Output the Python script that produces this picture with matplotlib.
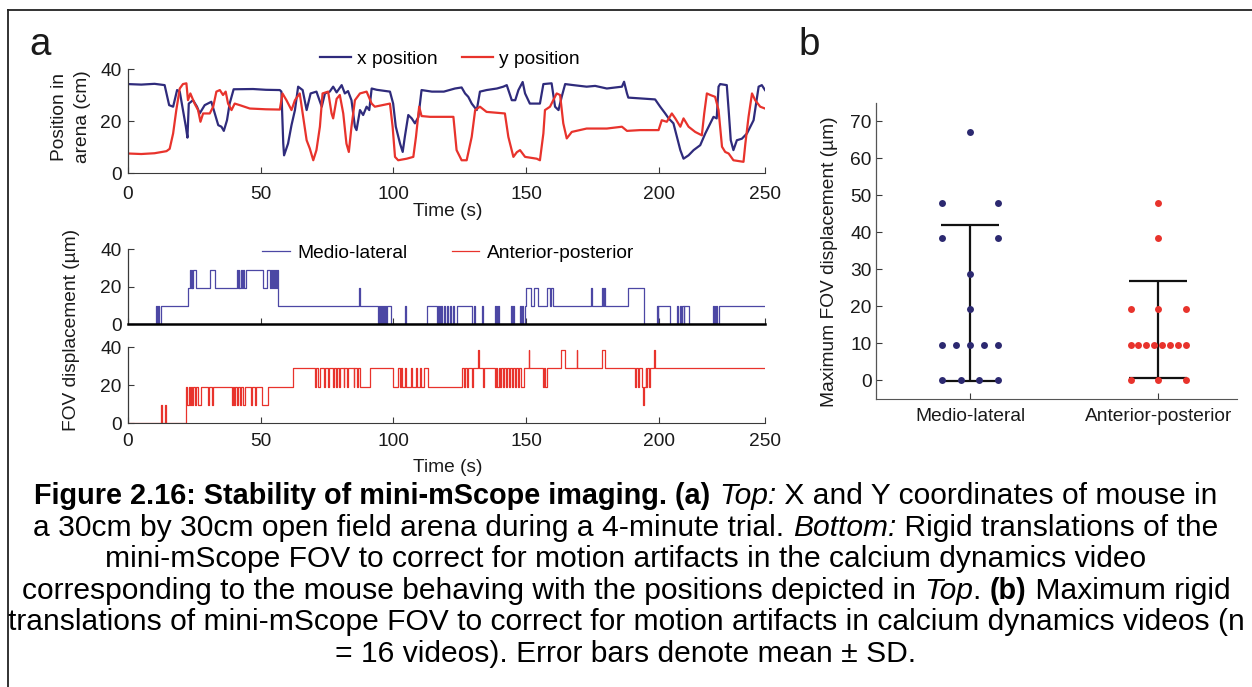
import numpy as np
import matplotlib
matplotlib.use("Agg")
import matplotlib.pyplot as plt
from matplotlib.lines import Line2D

plt.rcParams['font.family'] = ['Liberation Sans', 'DejaVu Sans']

# ---------------- data ----------------
time_ticks = [0, 50, 100, 150, 200, 240]
time_tick_labels = ['0', '50', '100', '150', '200', '250']

# mouse x position (cm)
xpos_t = [0, 5, 10, 13.8, 15.5, 17.0, 18.5, 19.5, 20.7, 21.8, 22.4, 22.9, 24.5, 26.0, 27.0, 28.9,
          31.4, 32.7, 34.0, 35.2, 36.1, 37.3, 38.3, 39.8, 47.1, 52, 57.2, 57.8, 58.5, 58.8, 60.3,
          61.6, 62.9, 64.1, 65.8, 67.3, 68.8, 71.0, 73.0, 74.2, 76.0, 77.3, 78.6, 80.5, 81.7, 82.9,
          84.2, 85.5, 86.1, 87.4, 88.6, 89.9, 90.9, 91.8, 93.7, 98.7, 99.9, 100.9, 102.5, 103.5,
          104.3, 105.6, 106.9, 108.1, 109.4, 110.6, 114.5, 119, 123.2, 125.7, 127.0, 128.2, 129.5,
          131.4, 132.6, 135.1, 139.0, 141.4, 142.7, 144.6, 145.9, 147.1, 148.7, 149.6, 151.4, 155.2,
          156.5, 159.6, 160.9, 162.2, 163.4, 164.7, 167.8, 172.8, 176, 180.4, 186.1, 186.9, 188.0,
          188.5, 193.0, 198.6, 200.5, 202.4, 203.7, 205.5, 206.8, 208.1, 209.3, 211.2, 213.1, 215.6,
          217.5, 219.4, 220.6, 221.8, 222.5, 223.1, 225.6, 226.3, 227.1, 228.1, 229.4, 231.3, 233.2,
          235.7, 237.6, 238.8, 240.0]
xpos_v = [34.2, 34.0, 34.3, 33.8, 26.1, 25.5, 31.9, 31.3, 24.2, 17.8, 13.6, 26.7, 28.0, 25.5, 22.9, 26.1,
          27.4, 22.9, 18.4, 17.8, 16.2, 20.3, 26.7, 32.2, 32.3, 32.0, 31.9, 31.3, 11.3, 6.8, 11.3,
          18.4, 24.2, 33.2, 31.9, 24.2, 30.6, 31.3, 25.5, 30.6, 31.3, 33.2, 31.0, 33.8, 30.6, 31.5,
          28.0, 17.8, 16.5, 24.2, 22.3, 25.5, 24.2, 32.5, 32.0, 31.3, 26.7, 17.8, 11.3, 8.1,
          13.9, 22.3, 21.0, 19.1, 21.5, 31.9, 31.3, 31.3, 32.5, 32.9, 30.6, 29.3, 26.7,
          24.2, 31.3, 31.9, 32.5, 33.2, 33.8, 28.0, 28.0, 31.9, 35.0, 30.6, 26.7, 26.7,
          34.2, 34.5, 25.5, 24.2, 29.3, 34.2, 33.8, 33.2, 33.5, 32.5, 33.2, 35.1, 30.6,
          29.0, 28.7, 28.3, 25.5, 22.9, 21.0, 19.1, 13.9, 8.8, 5.5, 6.8, 8.8, 10.7,
          15.2, 19.1, 21.6, 21.0, 33.2, 34.2, 33.8, 24.2, 12.6, 8.8, 12.6, 13.2, 15.2,
          20.3, 33.2, 33.8, 31.9]

# mouse y position (cm)
ypos_t = [0, 5, 10, 14.5, 15.7, 17.0, 18.2, 19.5, 20.7, 22.0, 22.6, 23.5, 25.1, 26.4, 27.3, 28.3,
          30.8, 32.1, 33.3, 34.6, 35.8, 36.8, 37.7, 39.0, 40.2, 42.1, 45.9, 52, 57.2, 58.2, 59.7,
          61.6, 62.9, 64.7, 66.0, 67.3, 68.5, 69.8, 71.0, 72.3, 73.3, 75.4, 76.7, 77.3, 78.6, 79.8,
          81.1, 82.3, 83.2, 84.2, 85.5, 87.4, 89.9, 91.8, 93.0, 98.7, 99.7, 100.6, 101.8, 105.0,
          107.5, 108.5, 109.7, 110.6, 113.8, 122.6, 123.8, 125.7, 127.6, 129.5, 130.8, 132.6, 135.1,
          142.0, 143.3, 145.2, 146.5, 147.7, 149.6, 154.0, 155.2, 156.5, 157.1, 159.0, 161.5, 162.8,
          164.0, 165.3, 167.2, 172.8, 180.4, 186.1, 188.0, 193.0, 199.9, 201.1, 203.0, 204.9, 206.2,
          208.1, 209.3, 211.2, 213.7, 216.2, 217.1, 218.1, 219.4, 221.2, 222.5, 223.8, 225.0, 226.3,
          228.1, 231.9, 232.6, 233.8, 235.1, 236.3, 238.2, 240.0]
ypos_v = [7.5, 7.3, 7.6, 8.4, 9.3, 15.2, 24.2, 32.5, 34.2, 34.5, 28.0, 30.6, 26.7, 24.2, 19.7, 22.9,
          22.9, 25.5, 31.3, 31.9, 30.0, 31.3, 26.7, 24.2, 26.7, 26.1, 24.8, 24.5, 24.4, 30.6, 28.0,
          24.2, 28.0, 30.6, 21.6, 12.6, 9.4, 4.9, 8.8, 17.8, 30.6, 31.3, 22.9, 21.0, 28.5, 30.0,
          22.9, 11.3, 8.1, 17.8, 28.0, 30.6, 31.3, 26.7, 25.5, 26.7, 17.8, 6.2, 4.9, 5.5,
          6.2, 13.9, 25.5, 21.9, 21.6, 21.6, 8.8, 4.9, 4.9, 13.9, 24.2, 25.5, 23.5,
          22.9, 13.9, 6.2, 8.0, 8.8, 6.2, 5.5, 4.9, 15.2, 24.2, 25.5, 30.6, 30.0,
          19.1, 13.3, 15.8, 17.1, 17.1, 17.8, 16.2, 16.5, 16.5, 20.3, 19.7, 22.9, 21.0,
          17.8, 21.0, 17.8, 15.8, 14.5, 22.9, 30.6, 30.0, 29.3, 24.2, 10.1, 8.1, 7.5,
          4.9, 4.3, 11.3, 21.6, 30.6, 28.0, 25.5, 24.8]

# FOV displacement, medio-lateral (um) : change times and levels
ml_t = [0, 10.4, 10.9, 11.4, 11.8, 12.3,
        22.6, 23.3, 23.6, 24.0, 24.3, 24.6, 25.6, 30.8, 32.7,
        40.9, 41.3, 41.7, 42.0, 42.4, 43.0, 43.4, 43.8, 44.3, 51.0, 52.2,
        53.5, 53.8, 54.2, 54.5, 54.9, 55.3, 55.7, 56.0, 56.6,
        87.0, 87.3, 94.3, 94.6, 95.0, 95.3, 95.7, 96.0, 96.4, 96.7, 97.2, 97.5, 99.0,
        104.5, 104.8, 112.5, 116.5, 116.8, 117.1, 117.4, 117.7, 118.0, 118.3,
        119.0, 119.3, 120.2, 120.5, 121.5, 121.8, 122.6, 122.9, 124.1, 129.5,
        130.4, 130.7, 133.3, 133.6, 138.3, 138.6, 138.9, 139.2, 139.5, 139.8,
        144.2, 144.5, 145.1, 145.4, 147.7, 148.0, 148.5, 148.8, 149.6,
        150.0, 152.0, 153.0, 154.6, 157.8, 159.0, 159.5, 160.3,
        174.6, 174.9, 178.5, 178.8, 179.5, 179.8, 188.5, 194.3,
        199.2, 199.5, 199.8, 204.2, 206.8, 207.2, 207.8, 208.2, 208.8, 209.3, 209.6, 211.2,
        220.3, 220.6, 221.0, 221.3, 221.7, 222.0, 222.5, 240.0]
ml_v = [0, 9.6, 0, 9.6, 0, 9.6,
        19.2, 28.8, 19.2, 28.8, 19.2, 28.8, 19.2, 28.8, 19.2,
        28.8, 19.2, 28.8, 19.2, 28.8, 19.2, 28.8, 19.2, 28.8, 19.2, 28.8,
        19.2, 28.8, 19.2, 28.8, 19.2, 28.8, 19.2, 28.8, 9.6,
        19.2, 9.6, 0, 9.6, 0, 9.6, 0, 9.6, 0, 9.6, 0, 9.6, 0,
        9.6, 0, 9.6, 0, 9.6, 0, 9.6, 0, 9.6, 0,
        9.6, 0, 9.6, 0, 9.6, 0, 9.6, 0, 9.6, 0,
        9.6, 0, 9.6, 0, 9.6, 0, 9.6, 0, 9.6, 0,
        9.6, 0, 9.6, 0, 9.6, 0, 9.6, 0, 9.6,
        19.2, 9.6, 19.2, 9.6, 19.2, 9.6, 19.2, 9.6,
        19.2, 9.6, 19.2, 9.6, 19.2, 9.6, 19.2, 0,
        9.6, 0, 9.6, 0, 9.6, 0, 9.6, 0, 9.6, 0, 9.6, 0,
        9.6, 0, 9.6, 0, 9.6, 0, 9.6, 9.6]

# FOV displacement, anterior-posterior (um)
ap_t = [0, 12.3, 12.7, 13.9, 14.3, 22.0,
        22.4, 22.8, 23.3, 23.6, 24.2, 24.6, 25.2, 25.6, 26.5, 27.4,
        30.3, 30.6, 31.6, 32.2,
        39.0, 39.4, 40.0, 40.4, 41.2, 41.6, 42.3, 42.7, 43.5, 44.0,
        46.5, 46.9, 47.8, 48.3, 50.6, 52.6, 62.2,
        70.4, 70.8, 71.5, 72.3, 74.0, 74.4, 75.5, 75.9,
        77.3, 77.7, 78.5, 78.9, 79.5, 79.8, 81.2, 81.5, 82.4, 83.0,
        85.0, 85.3, 86.2, 86.5, 87.4, 91.2, 100.0,
        101.9, 102.3, 102.9, 103.3, 104.3, 104.8, 106.5, 107.0, 108.5, 108.9, 110.0, 110.5,
        111.5, 113.1, 125.7, 126.5, 127.0, 127.8, 128.2, 129.5, 130.0,
        132.0, 132.3, 133.8, 134.2,
        138.3, 138.6, 139.2, 139.6, 140.2, 140.5, 141.3, 141.7, 142.4, 142.7, 143.5, 143.8,
        144.5, 144.9, 145.8, 146.2, 147.0, 147.4, 148.0, 149.3,
        151.0, 151.2, 156.2, 156.6, 157.0, 157.9, 163.3, 164.6, 169.0, 169.2, 178.5, 179.8,
        191.0, 191.3, 192.0, 192.4, 193.6, 194.2, 194.5, 195.0, 195.3, 195.6, 196.2, 196.5,
        198.2, 198.4, 240.0]
ap_v = [0, 9.6, 0, 9.6, 0, 19.2,
        9.6, 19.2, 9.6, 19.2, 9.6, 19.2, 9.6, 19.2, 9.6, 19.2,
        9.6, 19.2, 9.6, 19.2,
        9.6, 19.2, 9.6, 19.2, 9.6, 19.2, 9.6, 19.2, 9.6, 19.2,
        9.6, 19.2, 9.6, 19.2, 9.6, 19.2, 28.8,
        19.2, 28.8, 19.2, 28.8, 19.2, 28.8, 19.2, 28.8,
        19.2, 28.8, 19.2, 28.8, 19.2, 28.8, 19.2, 28.8, 19.2, 28.8,
        19.2, 28.8, 19.2, 28.8, 19.2, 28.8, 19.2,
        28.8, 19.2, 28.8, 19.2, 28.8, 19.2, 28.8, 19.2, 28.8, 19.2, 28.8, 19.2,
        28.8, 19.2, 28.8, 19.2, 28.8, 19.2, 28.8, 19.2, 28.8,
        38.4, 28.8, 19.2, 28.8,
        19.2, 28.8, 19.2, 28.8, 19.2, 28.8, 19.2, 28.8, 19.2, 28.8, 19.2, 28.8,
        19.2, 28.8, 19.2, 28.8, 19.2, 28.8, 19.2, 28.8,
        38.4, 28.8, 19.2, 28.8, 19.2, 28.8, 38.4, 28.8, 38.4, 28.8, 38.4, 28.8,
        19.2, 28.8, 19.2, 28.8, 19.2, 9.6, 19.2, 28.8, 19.2, 28.8, 19.2, 28.8,
        38.4, 28.8, 28.8]

# panel b: maximum FOV displacement per video (um), n = 16 each
categories = ['Medio-lateral', 'Anterior-posterior']
ml_max = [67.2, 48.0, 48.0, 38.4, 38.4, 28.8, 19.2, 9.6, 9.6, 9.6, 9.6, 9.6, 0, 0, 0, 0]
ap_max = [48.0, 38.4, 19.2, 19.2, 19.2, 9.6, 9.6, 9.6, 9.6, 9.6, 9.6, 9.6, 9.6, 0, 0, 0]
b_yticks = [0, 10, 20, 30, 40, 50, 60, 70]

# ---------------- style ----------------
NAVY = '#2f2b7c'
NAVY_LIGHT = '#4c47a4'
RED = '#e8332c'
DOT_NAVY = '#2c2970'
SPINE = '#3a3a3a'
TXT = '#1a1a1a'
FS = 13.8

W, H = 1252, 687
fig = plt.figure(figsize=(W / 100, H / 100), dpi=100)


def rect(l, t, r, b):
    return [l / W, 1 - b / H, (r - l) / W, (b - t) / H]


def style_axes(ax, bottom_color=SPINE):
    for s in ['top', 'right']:
        ax.spines[s].set_visible(False)
    ax.spines['left'].set_color(SPINE)
    ax.spines['bottom'].set_color(bottom_color)
    ax.spines['left'].set_linewidth(0.9)
    ax.tick_params(direction='in', length=4.5, width=0.8, colors=SPINE,
                   labelcolor=TXT, labelsize=FS)


# ---- panel a top: position ----
ax1 = fig.add_axes(rect(128, 69, 765, 173))
ax1.plot(xpos_t, xpos_v, color=NAVY, lw=1.6, label='x position')
ax1.plot(ypos_t, ypos_v, color=RED, lw=1.6, label='y position')
ax1.set_xlim(0, 240)
ax1.set_ylim(0, 40)
ax1.set_yticks([0, 20, 40])
ax1.set_xticks(time_ticks)
ax1.set_xticklabels(time_tick_labels)
style_axes(ax1)
ax1.tick_params(axis='x', pad=9.5)
ax1.tick_params(axis='y', pad=4.5)
ax1.legend(loc='center left', bbox_to_anchor=(320 / W, 1 - 59 / H),
           bbox_transform=fig.transFigure, ncol=2, frameon=False, borderpad=0,
           borderaxespad=0, handlelength=1.6, handletextpad=0.35, columnspacing=1.25,
           fontsize=FS)
fig.text(448 / W, 1 - 212 / H, 'Time (s)', ha='center', va='center', fontsize=FS, color=TXT)
fig.text(71 / W, 1 - 117 / H, 'Position in\narena (cm)', ha='center', va='center',
         rotation=90, fontsize=FS, color=TXT, multialignment='center', linespacing=1.45)

# ---- panel a bottom: FOV displacement ----
ax2 = fig.add_axes(rect(128, 249, 765, 324.3))
l_ml, = ax2.step(ml_t, ml_v, where='post', color=NAVY_LIGHT, lw=0.9, label='Medio-lateral')
ax2.set_xlim(0, 240)
ax2.set_ylim(0, 40)
ax2.set_yticks([0, 20, 40])
ax2.set_xticks(time_ticks)
ax2.set_xticklabels([])
style_axes(ax2, bottom_color='black')
ax2.spines['bottom'].set_linewidth(1.8)
ax2.tick_params(axis='y', pad=4.5)

ax3 = fig.add_axes(rect(128, 347, 765, 423.3))
l_ap, = ax3.step(ap_t, ap_v, where='post', color=RED, lw=0.9, label='Anterior-posterior')
ax3.set_xlim(0, 240)
ax3.set_ylim(0, 40)
ax3.set_yticks([0, 20, 40])
ax3.set_xticks(time_ticks)
ax3.set_xticklabels(time_tick_labels)
style_axes(ax3)
ax3.tick_params(axis='x', pad=7)
ax3.tick_params(axis='y', pad=4.5)

ax2.legend(handles=[l_ml, l_ap], loc='center left', bbox_to_anchor=(262 / W, 1 - 253 / H),
           bbox_transform=fig.transFigure, ncol=2, frameon=False, borderpad=0,
           borderaxespad=0, handlelength=1.45, handletextpad=0.4, columnspacing=2.3,
           fontsize=FS)
fig.text(448 / W, 1 - 467 / H, 'Time (s)', ha='center', va='center', fontsize=FS, color=TXT)
fig.text(71 / W, 1 - 330 / H, 'FOV displacement (µm)', ha='center', va='center',
         rotation=90, fontsize=FS, color=TXT)

# ---- panel b ----
axb = fig.add_axes(rect(876, 102.7, 1236.7, 399))
spread = 0.148
for i, (vals, col) in enumerate([(ml_max, DOT_NAVY), (ap_max, RED)]):
    vals = np.asarray(vals, dtype=float)
    xs, ys = [], []
    for v in np.unique(vals):
        n = int(np.sum(vals == v))
        offs = np.linspace(-spread, spread, n) if n > 1 else np.array([0.0])
        xs.extend(i + 1 + offs)
        ys.extend([v] * n)
    axb.plot(xs, ys, 'o', color=col, ms=5, mec='none', zorder=3)
    m, sd = vals.mean(), vals.std(ddof=1)
    axb.errorbar([i + 1], [m], yerr=[sd], fmt='none', ecolor='#111111', elinewidth=1.6,
                 capsize=20.7, capthick=1.6, zorder=2)
axb.set_xlim(0.5, 2.416)
axb.set_ylim(-5, 75)
axb.set_yticks(b_yticks)
axb.set_xticks([1, 2])
axb.set_xticklabels(categories)
style_axes(axb)
axb.spines['left'].set_color('#555555')
axb.spines['bottom'].set_color('#555555')
axb.tick_params(axis='x', pad=6.5)
axb.tick_params(axis='y', pad=3)
fig.text(829 / W, 1 - 262 / H, 'Maximum FOV displacement (µm)', ha='center', va='center',
         rotation=90, fontsize=FS, color=TXT)

# panel letters
fig.text(29 / W, 1 - 55 / H, 'a', fontsize=27.7, ha='left', va='baseline', color=TXT)
fig.text(798 / W, 1 - 55 / H, 'b', fontsize=27.7, ha='left', va='baseline', color=TXT)

# frame
fig.add_artist(Line2D([8 / W, 1], [1 - 10 / H, 1 - 10 / H], transform=fig.transFigure,
                      color='#222222', lw=1.3))
fig.add_artist(Line2D([8 / W, 8 / W], [0, 1 - 10 / H], transform=fig.transFigure,
                      color='#222222', lw=1.3))

# ---- caption with mixed styles ----
caption_lines = [
    [("Figure 2.16: Stability of mini-mScope imaging. (a)", 'b'), (" ", 'r'), ("Top:", 'i'),
     (" X and Y coordinates of mouse in", 'r')],
    [("a 30cm by 30cm open field arena during a 4-minute trial. ", 'r'), ("Bottom:", 'i'),
     (" Rigid translations of the", 'r')],
    [("mini-mScope FOV to correct for motion artifacts in the calcium dynamics video", 'r')],
    [("corresponding to the mouse behaving with the positions depicted in ", 'r'), ("Top", 'i'),
     (". ", 'r'), ("(b)", 'b'), (" Maximum rigid", 'r')],
    [("translations of mini-mScope FOV to correct for motion artifacts in calcium dynamics videos (n", 'r')],
    [("= 16 videos). Error bars denote mean ± SD.", 'r')],
]

fig.canvas.draw()
renderer = fig.canvas.get_renderer()
BOLD_SCALE = 0.962


def props(style, size):
    d = dict(fontsize=size, color='black')
    if style == 'b':
        d['fontweight'] = 'bold'
        d['fontsize'] = size * BOLD_SCALE
    if style == 'i':
        d['fontstyle'] = 'italic'
    return d


def width(s, style, size):
    t1 = fig.text(0, 0, s + 'x', **props(style, size))
    t2 = fig.text(0, 0, 'x', **props(style, size))
    w = t1.get_window_extent(renderer).width - t2.get_window_extent(renderer).width
    t1.remove()
    t2.remove()
    return w


ref_w = width(caption_lines[4][0][0], 'r', 20)
cap_size = 20 * 1234 / ref_w
cx = 626
base0, pitch = 504, 31.6
for k, runs in enumerate(caption_lines):
    ws = [width(s, st, cap_size) for s, st in runs]
    x = cx - sum(ws) / 2
    y = base0 + k * pitch
    for (s, st), w in zip(runs, ws):
        if s.strip():
            fig.text(x / W, 1 - y / H, s, ha='left', va='baseline', **props(st, cap_size))
        x += w

fig.savefig('out.png', dpi=100)
